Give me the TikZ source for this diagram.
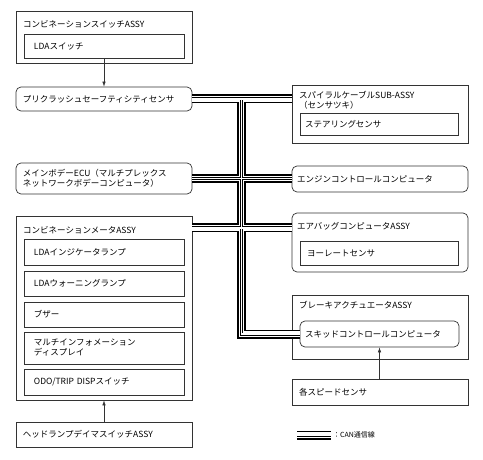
\documentclass[tikz,border=0pt]{standalone}
\usepackage{fontspec}
\newfontfamily\jp{Noto Sans CJK JP}
\usetikzlibrary{arrows.meta,calc}
\definecolor{lc}{gray}{0.2}
\begin{document}
\begin{tikzpicture}[x=1pt,y=-1pt,
  bx/.style={draw=lc, line width=0.7pt, inner ysep=0pt, align=left,
    font=\fontsize{8.5}{10}\selectfont\jp, text=black},
  rnd/.style={bx, rounded corners=5pt},
  lbl/.style={inner sep=0pt, anchor=west, align=left,
    font=\fontsize{8.5}{10}\selectfont\jp, text=black},
  arr/.style={draw=lc, line width=0.6pt, -{Latex[length=5pt,width=3.5pt]}},
  canbus/.style={draw=black, line width=9pt, line join=miter,
    postaction={draw=white, line width=5.4pt},
    postaction={draw=black, line width=3pt},
    postaction={draw=white, line width=1.2pt}}
]
\useasboundingbox (0,0) rectangle (483,460);

% left column
\node[bx, minimum width=176pt, minimum height=52pt] (sw) at (104,37) {};
\node[lbl] (swt) at (23,24) {コンビネーションスイッチASSY};
\node[bx, minimum width=160pt, minimum height=24pt, inner xsep=10pt, text width=140pt] (lda) at (104,46) {LDAスイッチ};
\node[rnd, minimum width=176pt, minimum height=24pt, inner xsep=7pt, text width=162pt] (pcs) at (104,99) {プリクラッシュセーフティシティセンサ};
\node[rnd, minimum width=176pt, minimum height=31pt, inner xsep=7pt, text width=162pt] (ecu) at (104,178.5) {メインボデーECU（マルチプレックス\\ネットワークボデーコンピュータ）};

\node[bx, minimum width=176pt, minimum height=184pt] (meter) at (104,308) {};
\node[lbl] (metert) at (23,230) {コンビネーションメータASSY};
\node[bx, minimum width=160pt, minimum height=26pt, inner xsep=10pt, text width=140pt] (ind) at (104,252) {LDAインジケータランプ};
\node[bx, minimum width=160pt, minimum height=25pt, inner xsep=10pt, text width=140pt] (warn) at (104,283.5) {LDAウォーニングランプ};
\node[bx, minimum width=160pt, minimum height=25pt, inner xsep=10pt, text width=140pt] (buzz) at (104,314.5) {ブザー};
\node[bx, minimum width=160pt, minimum height=32pt, inner xsep=10pt, text width=140pt] (mid) at (104,348) {マルチインフォメーション\\ディスプレイ};
\node[bx, minimum width=160pt, minimum height=26pt, inner xsep=10pt, text width=140pt] (odo) at (104,382) {ODO/TRIP DISPスイッチ};
\node[bx, minimum width=176pt, minimum height=25pt, inner xsep=7pt, text width=162pt] (head) at (104,434.5) {ヘッドランプデイマスイッチASSY};

% right column
\node[bx, minimum width=176pt, minimum height=58pt] (spiral) at (380,114) {};
\node[lbl] (spiralt) at (299,100) {スパイラルケーブルSUB-ASSY\\（センサツキ）};
\node[bx, minimum width=158pt, minimum height=22pt, inner xsep=5pt, text width=148pt] (steer) at (379,124) {ステアリングセンサ};
\node[rnd, minimum width=176pt, minimum height=26pt, inner xsep=5pt, text width=166pt] (eng) at (380,179) {エンジンコントロールコンピュータ};
\node[rnd, minimum width=176pt, minimum height=59pt] (airbag) at (380,242.5) {};
\node[lbl] (airbagt) at (297,226) {エアバッグコンピュータASSY};
\node[bx, minimum width=158pt, minimum height=24pt, inner xsep=7pt, text width=144pt] (yaw) at (379,253) {ヨーレートセンサ};
\node[bx, minimum width=176pt, minimum height=64pt] (brake) at (380,327) {};
\node[lbl] (braket) at (299,305) {ブレーキアクチュエータASSY};
\node[rnd, minimum width=159pt, minimum height=26pt, inner xsep=5pt, text width=149pt] (skid) at (379.5,334) {スキッドコントロールコンピュータ};
\node[bx, minimum width=176pt, minimum height=26pt, inner xsep=7pt, text width=162pt] (speed) at (380,392) {各スピードセンサ};

% arrows
\draw[arr] (lda.south) -- (pcs.north);
\draw[arr] (head.north) -- (meter.south);
\draw[arr] (speed.north -| skid.south) -- (skid.south);

% CAN bus
\coordinate (t1) at (241.5,99);
\coordinate (t2) at (241.5,334);
\coordinate (mb) at (192,228);
\path[canbus] (pcs.east) -- (pcs.east -| spiral.west)
  (t1) -- (t2) -- (skid.west)
  (ecu.east) -- (ecu.east -| eng.west)
  (mb) -- (mb -| airbag.west);

% legend
\coordinate (lg1) at (297,435);
\coordinate (lg2) at (331,435);
\path[canbus] (lg1) -- (lg2);
\node[lbl, font=\fontsize{7}{8}\selectfont\jp] (lgt) at (333,435) {：CAN通信線};
\end{tikzpicture}
\end{document}
